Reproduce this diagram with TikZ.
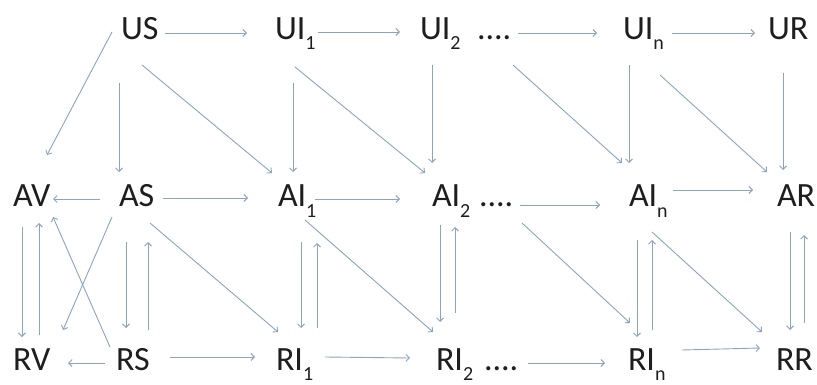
\documentclass[tikz,border=0pt]{standalone}
\usepackage{fontspec}
\setmainfont{Carlito}
\usetikzlibrary{arrows.meta,calc}
\definecolor{arrc}{HTML}{8DA4C0}
\definecolor{txtc}{HTML}{1E1E1E}
\newcommand\subx[1]{\raisebox{-10pt}{\fontsize{20}{20}\selectfont #1}}
\begin{document}
\begin{tikzpicture}[x=1pt,y=-1pt,
  lbl/.style={anchor=base west,inner sep=0pt,outer sep=0pt,text=txtc,font=\fontsize{34}{40}\selectfont},
  arr/.style={draw=arrc,line width=0.9pt,-{Straight Barb[length=3.5pt,width=7pt]}}]
\useasboundingbox[fill=white] (0,0) rectangle (817,385);
% top row
\node[lbl] (US)  at (121,40) {US};
\node[lbl] (UI1) at (275,40) {UI\subx{1}};
\node[lbl] (UI2) at (420,40) {UI\subx{2}};
\node[lbl] (D1)  at (477,40) {....};
\node[lbl] (UIn) at (623,40) {UI\subx{n}};
\node[lbl] (UR)  at (768,40) {UR};
% middle row
\node[lbl] (AV)  at (13,207) {AV};
\node[lbl] (AS)  at (119,207) {AS};
\node[lbl] (AI1) at (278,207) {AI\subx{1}};
\node[lbl] (AI2) at (432,207) {AI\subx{2}};
\node[lbl] (D2)  at (479,207) {....};
\node[lbl] (AIn) at (629,207) {AI\subx{n}};
\node[lbl] (AR)  at (777,207) {AR};
% bottom row
\node[lbl] (RV)  at (13,370) {RV};
\node[lbl] (RS)  at (116,370) {RS};
\node[lbl] (RI1) at (276,370) {RI\subx{1}};
\node[lbl] (RI2) at (436,370) {RI\subx{2}};
\node[lbl] (D3)  at (484,370) {....};
\node[lbl] (RIn) at (628,370) {RI\subx{n}};
\node[lbl] (RR)  at (776,370) {RR};
% top connectors
\draw[arr] ($(US.base west)+(44,-7)$) -- ($(UI1.base west)+(-28,-7)$);
\draw[arr] ($(US.base west)+(-9,-8)$) -- ($(AV.base west)+(34,-52)$);
\draw[arr] ($(US.base west)+(-2,43)$) -- ($(AS.base west)+(0,-35)$);
\draw[arr] ($(US.base west)+(21,25)$) -- ($(AI1.base west)+(-6,-34)$);
\draw[arr] ($(UI1.base west)+(43,-8)$) -- ($(UI2.base west)+(-20,-8)$);
\draw[arr] ($(UI1.base west)+(18,43)$) -- ($(AI1.base west)+(15,-35)$);
\draw[arr] ($(UI1.base west)+(20,27)$) -- ($(AI2.base west)+(-7,-34)$);
\draw[arr] ($(UI2.base west)+(12,25)$) -- ($(AI2.base west)+(0,-44)$);
\draw[arr] ($(D1.base west)+(41,-7)$) -- ($(UIn.base west)+(-26,-7)$);
\draw[arr] ($(D1.base west)+(36,25)$) -- ($(AIn.base west)+(-7,-44)$);
\draw[arr] ($(UIn.base west)+(6,25)$) -- ($(AIn.base west)+(0,-44)$);
\draw[arr] ($(UIn.base west)+(49,-7)$) -- ($(UR.base west)+(-13,-7)$);
\draw[arr] ($(UIn.base west)+(37,35)$) -- ($(AR.base west)+(-10,-35)$);
\draw[arr] ($(UR.base west)+(15,33)$) -- ($(AR.base west)+(6,-37)$);
% middle connectors
\draw[arr] ($(AS.base west)+(-19,-8)$) -- ($(AV.base west)+(40,-8)$);
\draw[arr] ($(AS.base west)+(44,-9)$) -- ($(AI1.base west)+(-30,-9)$);
\draw[arr] ($(AS.base west)+(-7,10)$) -- ($(RV.base west)+(50,-40)$);
\draw[arr] ($(AS.base west)+(7,35)$) -- ($(RS.base west)+(10,-42)$);
\draw[arr] ($(RS.base west)+(32,-40)$) -- ($(AS.base west)+(29,35)$);
\draw[arr] ($(AS.base west)+(31,16)$) -- ($(RI1.base west)+(2,-38)$);
\draw[arr] ($(AV.base west)+(9,20)$) -- ($(RV.base west)+(9,-33)$);
\draw[arr] ($(RV.base west)+(26,-35)$) -- ($(AV.base west)+(26,16)$);
\draw[arr] ($(RS.base west)+(-6,-23)$) -- ($(AV.base west)+(40,10)$);
\draw[arr] ($(AI1.base west)+(37,-8)$) -- ($(AI2.base west)+(-32,-8)$);
\draw[arr] ($(AI1.base west)+(23,35)$) -- ($(RI1.base west)+(25,-42)$);
\draw[arr] ($(RI1.base west)+(41,-42)$) -- ($(AI1.base west)+(39,36)$);
\draw[arr] ($(AI1.base west)+(27,13)$) -- ($(RI2.base west)+(-3,-38)$);
\draw[arr] ($(AI2.base west)+(8,18)$) -- ($(RI2.base west)+(4,-48)$);
\draw[arr] ($(RI2.base west)+(19,-57)$) -- ($(AI2.base west)+(23,20)$);
\draw[arr] ($(D2.base west)+(41,-2)$) -- ($(AIn.base west)+(-29,-2)$);
\draw[arr] ($(D2.base west)+(43,16)$) -- ($(RIn.base west)+(2,-47)$);
\draw[arr] ($(AIn.base west)+(44,-17)$) -- ($(AR.base west)+(-24,-17)$);
\draw[arr] ($(AIn.base west)+(8,33)$) -- ($(RIn.base west)+(9,-33)$);
\draw[arr] ($(RIn.base west)+(24,-40)$) -- ($(AIn.base west)+(23,33)$);
\draw[arr] ($(AIn.base west)+(23,25)$) -- ($(RR.base west)+(-14,-38)$);
\draw[arr] ($(AR.base west)+(13,25)$) -- ($(RR.base west)+(14,-40)$);
\draw[arr] ($(RR.base west)+(28,-47)$) -- ($(AR.base west)+(27,28)$);
% bottom connectors
\draw[arr] ($(RS.base west)+(-11,-7)$) -- ($(RV.base west)+(55,-7)$);
\draw[arr] ($(RS.base west)+(54,-13)$) -- ($(RI1.base west)+(-21,-13)$);
\draw[arr] ($(RI1.base west)+(49,-13)$) -- ($(RI2.base west)+(-26,-12)$);
\draw[arr] ($(D3.base west)+(44,-7)$) -- ($(RIn.base west)+(-23,-7)$);
\draw[arr] ($(RIn.base west)+(54,-20)$) -- ($(RR.base west)+(-16,-22)$);
\end{tikzpicture}
\end{document}
